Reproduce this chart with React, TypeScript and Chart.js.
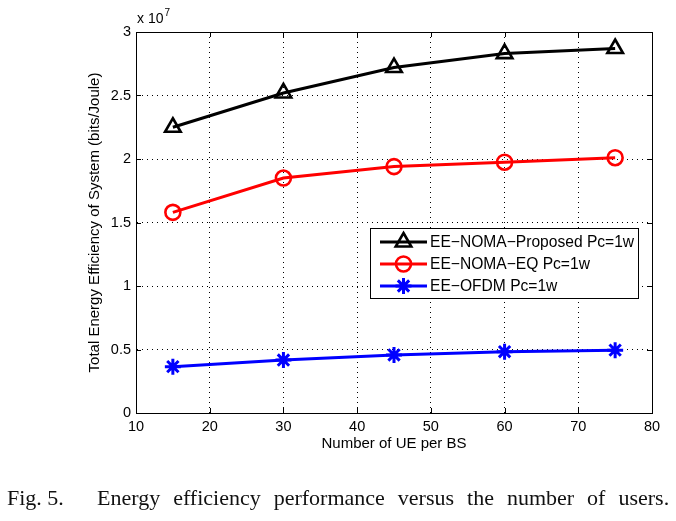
import React, { useEffect, useRef } from "react";
import { Chart, registerables } from "chart.js";

Chart.register(...registerables);

const userCounts = [15, 30, 45, 60, 75];
const proposedEE = [2.25e7, 2.52e7, 2.72e7, 2.83e7, 2.87e7];
const equalEE = [1.58e7, 1.85e7, 1.94e7, 1.975e7, 2.01e7];
const ofdmEE = [0.365e7, 0.417e7, 0.457e7, 0.483e7, 0.495e7];
const seriesLabels = ["EE\u2212NOMA\u2212Proposed Pc=1w", "EE\u2212NOMA\u2212EQ Pc=1w", "EE\u2212OFDM Pc=1w"];
const xTicks = [10, 20, 30, 40, 50, 60, 70, 80];
const yTicks = [0, 0.5e7, 1e7, 1.5e7, 2e7, 2.5e7, 3e7];

const SANS = "'Liberation Sans', Arial, Helvetica, sans-serif";

function drawMarker(ctx: CanvasRenderingContext2D, style: string, r: number, x: number, y: number) {
  ctx.beginPath();
  if (style === "triangle") {
    ctx.moveTo(x, y - r);
    ctx.lineTo(x + Math.sin((2 * Math.PI) / 3) * r, y - Math.cos((2 * Math.PI) / 3) * r);
    ctx.lineTo(x + Math.sin((4 * Math.PI) / 3) * r, y - Math.cos((4 * Math.PI) / 3) * r);
    ctx.closePath();
  } else if (style === "circle") {
    ctx.arc(x, y, r, 0, Math.PI * 2);
    ctx.closePath();
  } else if (style === "star") {
    for (let k = 0; k < 4; k++) {
      const ang = (k * Math.PI) / 4;
      ctx.moveTo(x + Math.cos(ang) * r, y + Math.sin(ang) * r);
      ctx.lineTo(x - Math.cos(ang) * r, y - Math.sin(ang) * r);
    }
  }
  ctx.stroke();
}

const boxPlugin = {
  id: "matlabBox",
  afterDraw(chart: any) {
    const { ctx, chartArea: a, scales } = chart;
    ctx.save();
    ctx.setLineDash([]);
    ctx.strokeStyle = "#000";
    ctx.lineWidth = 1;
    const tl = 5;
    ctx.beginPath();
    scales.x.ticks.forEach((t: any) => {
      const px = Math.round(scales.x.getPixelForValue(t.value)) + 0.5;
      ctx.moveTo(px, a.bottom);
      ctx.lineTo(px, a.bottom - tl);
      ctx.moveTo(px, a.top);
      ctx.lineTo(px, a.top + tl);
    });
    scales.y.ticks.forEach((t: any) => {
      const py = Math.round(scales.y.getPixelForValue(t.value)) + 0.5;
      ctx.moveTo(a.left, py);
      ctx.lineTo(a.left + tl, py);
      ctx.moveTo(a.right, py);
      ctx.lineTo(a.right - tl, py);
    });
    ctx.stroke();
    ctx.strokeRect(Math.round(a.left) + 0.5, Math.round(a.top) + 0.5, Math.round(a.right - a.left), Math.round(a.bottom - a.top));
    // exponent label
    ctx.fillStyle = "#000";
    ctx.textBaseline = "middle";
    ctx.textAlign = "left";
    ctx.font = `14px ${SANS}`;
    ctx.fillText("x 10", a.left + 1, a.top - 13);
    const w = ctx.measureText("x 10").width;
    ctx.font = `10px ${SANS}`;
    ctx.fillText("7", a.left + 2 + w, a.top - 19);

    // legend
    const bx = a.right - 282;
    const by = a.top + 196;
    const bw = 268;
    const bh = 70;
    ctx.fillStyle = "#fff";
    ctx.fillRect(bx, by, bw, bh);
    ctx.strokeStyle = "#000";
    ctx.lineWidth = 1;
    ctx.strokeRect(bx + 0.5, by + 0.5, bw, bh);
    chart.data.datasets.forEach((ds: any, i: number) => {
      const cy = by + 14 + i * 22;
      ctx.strokeStyle = ds.borderColor;
      ctx.lineWidth = ds.borderWidth;
      ctx.beginPath();
      ctx.moveTo(bx + 10, cy);
      ctx.lineTo(bx + 57, cy);
      ctx.stroke();
      ctx.lineWidth = ds.pointBorderWidth;
      ctx.strokeStyle = ds.borderColor;
      drawMarker(ctx, ds.pointStyle, ds.pointRadius, bx + 33.5, cy);
      ctx.fillStyle = "#000";
      ctx.font = `15.6px ${SANS}`;
      ctx.textAlign = "left";
      ctx.textBaseline = "middle";
      ctx.fillText(ds.label, bx + 60, cy + 1);
    });
    ctx.restore();
  },
};

export default function App() {
  const ref = useRef<HTMLCanvasElement | null>(null);
  useEffect(() => {
    document.body.style.margin = "0";
    if (!ref.current) return;
    const mk = (vals: number[]) => vals.map((v, i) => ({ x: userCounts[i], y: v }));
    const chart = new Chart(ref.current, {
      type: "line",
      data: {
        datasets: [
          {
            label: seriesLabels[0],
            data: mk(proposedEE),
            borderColor: "#000000",
            backgroundColor: "rgba(0,0,0,0)",
            borderWidth: 3,
            pointStyle: "triangle",
            pointRadius: 9,
            pointBorderWidth: 2.6,
            pointBackgroundColor: "rgba(0,0,0,0)",
            pointBorderColor: "#000000",
          },
          {
            label: seriesLabels[1],
            data: mk(equalEE),
            borderColor: "#ff0000",
            backgroundColor: "rgba(0,0,0,0)",
            borderWidth: 3,
            pointStyle: "circle",
            pointRadius: 7.5,
            pointBorderWidth: 2.6,
            pointBackgroundColor: "rgba(0,0,0,0)",
            pointBorderColor: "#ff0000",
          },
          {
            label: seriesLabels[2],
            data: mk(ofdmEE),
            borderColor: "#0000ff",
            backgroundColor: "rgba(0,0,0,0)",
            borderWidth: 3,
            pointStyle: "star",
            pointRadius: 8,
            pointBorderWidth: 3,
            pointBackgroundColor: "rgba(0,0,0,0)",
            pointBorderColor: "#0000ff",
          },
        ] as any,
      },
      options: {
        animation: false,
        responsive: false,
        devicePixelRatio: 1,
        layout: { padding: { left: 0, top: 32, right: 24, bottom: 63 } },
        plugins: { legend: { display: false }, tooltip: { enabled: false } },
        elements: { line: { tension: 0 } },
        scales: {
          x: {
            type: "linear",
            min: 10,
            max: 80,
            afterBuildTicks: (s: any) => {
              s.ticks = xTicks.map((v) => ({ value: v }));
            },
            afterFit: (s: any) => {
              s.height = 45;
            },
            ticks: {
              color: "#000",
              font: { family: SANS, size: 14.5 },
              padding: 5,
              maxRotation: 0,
              autoSkip: false,
            },
            grid: { color: "#000", lineWidth: 1, drawTicks: false },
            border: { display: true, color: "#000", dash: [1, 4] },
            title: {
              display: true,
              text: "Number of UE per BS",
              color: "#000",
              font: { family: SANS, size: 15 },
              padding: { top: 0, bottom: 5 },
            },
          },
          y: {
            type: "linear",
            min: 0,
            max: 3e7,
            afterBuildTicks: (s: any) => {
              s.ticks = yTicks.map((v) => ({ value: v }));
            },
            afterFit: (s: any) => {
              s.width = 136;
            },
            ticks: {
              color: "#000",
              font: { family: SANS, size: 14.5 },
              padding: 5,
              autoSkip: false,
              callback: (v: any) => String(Number(v) / 1e7),
            },
            grid: { color: "#000", lineWidth: 1, drawTicks: false },
            border: { display: true, color: "#000", dash: [1, 4] },
            title: {
              display: true,
              text: "Total Energy Efficiency of System (bits/Joule)",
              color: "#000",
              font: { family: SANS, size: 15 },
              padding: { top: 86, bottom: 0 },
            },
          },
        },
      } as any,
      plugins: [boxPlugin],
    });
    return () => chart.destroy();
  }, []);

  return (
    <div style={{ position: "fixed", left: 0, top: 0, width: 676, height: 521, background: "#fff" }}>
      <canvas ref={ref} width={676} height={521} style={{ width: 676, height: 521, display: "block" }} />
      <div
        style={{
          position: "absolute",
          left: 7,
          top: 487,
          fontFamily: "'Liberation Serif', 'Times New Roman', serif",
          fontSize: 22,
          lineHeight: "22px",
          whiteSpace: "nowrap",
          color: "#111",
        }}
      >
        <span>Fig. 5.</span>
        <span style={{ position: "absolute", left: 90, wordSpacing: 7.5 }}>
          Energy efficiency performance versus the number of users.
        </span>
      </div>
    </div>
  );
}
